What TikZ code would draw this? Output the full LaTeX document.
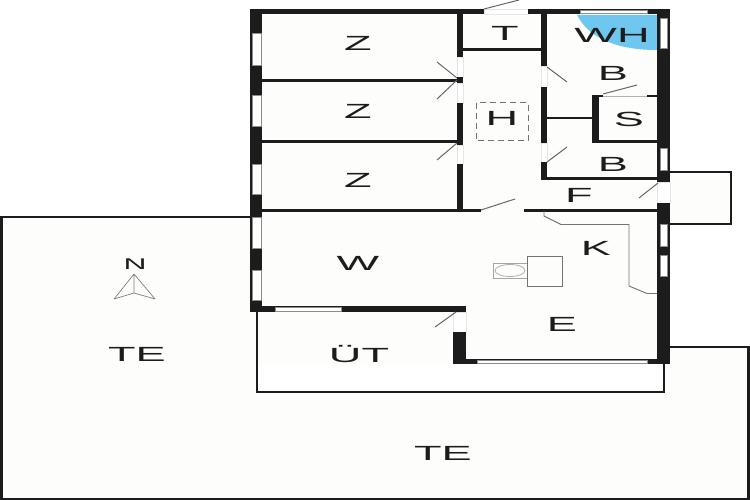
\documentclass[tikz,border=0pt]{standalone}
\usepackage{fontspec}
\setmainfont{Liberation Sans}
\definecolor{wallc}{HTML}{1C1C1C}
\definecolor{floorc}{HTML}{FDFDFB}
\definecolor{blueWH}{HTML}{6FC6EE}
\tikzset{
  wall/.style={fill=wallc,draw=none},
  win/.style={fill=white,draw=black!45,line width=0.6pt},
  gapfill/.style={fill=white,draw=black!10,line width=0.4pt},
  doorleaf/.style={draw=black!60,line width=1pt},
  thin outline/.style={draw=wallc,line width=1.6pt},
  heavy outline/.style={draw=wallc,line width=2.6pt},
  grayline/.style={draw=black!55,line width=0.9pt},
  room/.style={font=\fontsize{20.5}{20.5}\selectfont,text=wallc,xscale=2.2,transform shape,inner sep=0pt},
  north/.style={font=\fontsize{15.5}{15.5}\selectfont,text=wallc,xscale=2.05,transform shape,inner sep=0pt}
}
\newcommand{\wl}[4]{\path[wall] (#1,#2) rectangle (#3,#4);}
\newcommand{\wn}[4]{\path[win] (#1,#2) rectangle (#3,#4);}
\newcommand{\gp}[4]{\path[gapfill] (#1,#2) rectangle (#3,#4);}
\begin{document}
\begin{tikzpicture}[x=1pt,y=-1pt]
\useasboundingbox (0,0) rectangle (750,500);
\fill[white] (0,0) rectangle (750,500);
% floors
\fill[floorc] (1,217) -- (250,217) -- (250,312) -- (256,312) -- (256,392) -- (664,392) -- (664,364) -- (670,364) -- (670,347) -- (749,347) -- (749,499) -- (1,499) -- cycle;
\fill[floorc] (250,9) rectangle (670,364);
\fill[floorc] (670,172) rectangle (731,224);
% blue
\fill[blueWH] (577,15) -- (657,15) -- (657,50) .. controls (620,50) and (590,40) .. (577,15) -- cycle;
% terrace outlines
\draw[thin outline] (250,217) -- (1,217) -- (1,499) -- (749,499) -- (749,347) -- (670,347);
\draw[heavy outline] (1.3,217) -- (1.3,499);
\draw[heavy outline] (748.7,347) -- (748.7,499);
\draw[thin outline] (257,311) -- (257,392) -- (664,392) -- (664,364);
% outside box
\draw[thin outline] (670,172) -- (731,172) -- (731,224) -- (670,224);
\draw[heavy outline] (731,172) -- (731,224);
% door openings
\gp{457}{57}{463}{77}
\gp{457}{83}{463}{103}
\gp{457}{145}{463}{164}
\gp{541}{66}{547}{87}
\gp{541}{143}{547}{162}
\gp{657}{182}{670}{203}
\gp{453}{312}{466}{332}
\gp{484}{9}{528}{14}
% outer walls
\wl{250}{9}{484}{14}
\wl{528}{9}{670}{14}
\wl{250}{9}{262}{312}
\wl{657}{9}{670}{182}
\wl{657}{203}{670}{364}
\wl{250}{306}{466}{312}
\wl{453}{332}{466}{364}
\wl{453}{359}{670}{364}
% left windows
\wn{252}{33}{261}{65}
\wn{252}{95}{261}{126}
\wn{252}{164}{261}{194}
\wn{252}{217}{261}{248}
\wn{252}{270}{261}{300}
% right windows
\wn{660}{18}{667}{48}
\wn{660}{148}{667}{170}
\wn{660}{224}{667}{246}
\wn{660}{255}{667}{276}
% horizontal windows
\wn{580}{10}{647}{13}
\wn{275}{307}{341}{311}
\wn{477}{360}{647}{363}
% inner walls
\wl{457}{13}{463}{57}
\wl{457}{77}{463}{83}
\wl{457}{103}{463}{145}
\wl{457}{164}{463}{210}
\wl{262}{79}{460}{82}
\wl{262}{140}{460}{143}
\wl{262}{209}{481}{211.5}
\wl{524}{208.5}{657}{211.5}
\wl{463}{48}{543}{51}
\wl{541}{13}{547}{66}
\wl{541}{87}{547}{143}
\wl{541}{162}{547}{180}
\wl{541}{177}{657}{180}
\wl{547}{117}{593}{119.5}
\wl{592}{95}{599}{143}
\wl{592}{140}{657}{143}
\wl{592}{95}{603}{97}
\wl{647}{95}{657}{97}
\draw[black!30,line width=0.5pt] (603,96) -- (647,96);
% doors
\draw[doorleaf] (484,9) -- (519,0);
\draw[doorleaf] (457,78) -- (437,62);
\draw[doorleaf] (457,80) -- (437,99);
\draw[doorleaf] (457,143) -- (437,160);
\draw[doorleaf] (547,67) -- (567,82);
\draw[doorleaf] (547,162) -- (567,147);
\draw[doorleaf] (603,94) -- (637,85);
\draw[doorleaf] (658,183) -- (639,198);
\draw[doorleaf] (481,210) -- (515,199);
\draw[doorleaf] (456,312) -- (435,327);
% kitchen counter
\draw[grayline] (544,211) -- (544,216) -- (561,224.5) -- (629,224.5) -- (629,286) -- (647,293.5) -- (657,293.5);
% appliance
\draw[grayline,draw=black!35] (493,263) rectangle (527,278);
\draw[draw=black!30,line width=0.8pt] (510,270.5) ellipse [x radius=15,y radius=6];
\draw[grayline] (527,256) rectangle (562,286);
% stair
\draw[black!55,line width=1pt,dash pattern=on 6pt off 4pt] (476,103) rectangle (528,141);
% north arrow
\draw[black!50,line width=0.7pt,line join=round] (134,274) -- (114,299) -- (134,293) -- (155,299) -- cycle (134,274) -- (134,293);
% labels
\node[room] (z1) at (358,43) {Z};
\node[room] (z2) at (358,111) {Z};
\node[room] (z3) at (358,180) {Z};
\node[room] (t) at (505,33) {T};
\node[room] (wh) at (612,35) {WH};
\node[room] (b1) at (613,73) {B};
\node[room] (s) at (629,119) {S};
\node[room] (h) at (502,118) {H};
\node[room] (b2) at (613,164) {B};
\node[room] (f) at (579,195) {F};
\node[room] (k) at (596,248) {K};
\node[room] (w) at (358,263) {W};
\node[room] (e) at (562,324) {E};
\node[room] (ut) at (359,354) {ÜT};
\node[room] (te1) at (137,354) {TE};
\node[room] (te2) at (443,453) {TE};
\node[north] (n) at (135,264) {N};
\end{tikzpicture}
\end{document}
